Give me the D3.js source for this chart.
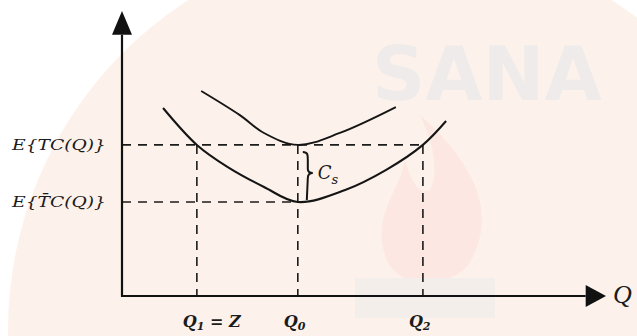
<!DOCTYPE html>
<html>
<head>
<meta charset="utf-8">
<script src="https://cdn.jsdelivr.net/npm/d3@7"></script>
<style>
  html, body { margin: 0; padding: 0; background: #ffffff; }
  svg { display: block; }
  text { font-family: "DejaVu Serif", "Liberation Serif", serif; font-style: italic; fill: #1b1b1b; }
</style>
</head>
<body>
<svg id="chart" width="637" height="336"></svg>
<script>
// Expected total cost curves against order quantity Q (data units 0..100 on both axes)
const lowerCurve = [ // E{T̄C(Q)}
  [8.5, 66.2], [15.5, 53.2], [21.9, 45.4], [29.4, 38.4], [36.4, 33.1],
  [46.2, 37.3], [54.7, 44.4], [62.3, 53.2], [67.1, 61.6]
];
const upperCurve = [ // E{TC(Q)}
  [16.4, 72.2], [24.4, 63.7], [29.4, 57.4], [36.4, 53.2], [45.1, 57.4], [56.7, 66.5]
];
const costLevels = [53.2, 33.1];            // E{TC(Q)}, E{T̄C(Q)}
const costLabels = ["TC", "T̄C"];
const quantities = [15.5, 36.4, 62.3];       // Q1 = Z, Q0, Q2
const quantityLabels = [["Q", "1", " = Z"], ["Q", "0", ""], ["Q", "2", ""]];

const svg = d3.select("#chart");
const W = 637, H = 336;

const x = d3.scaleLinear().domain([0, 100]).range([122, 605]);
const y = d3.scaleLinear().domain([0, 100]).range([296, 12]);

// background wash and faint emblem
svg.append("rect").attr("width", W).attr("height", H).attr("fill", "#ffffff");
svg.append("circle").attr("cx", 400).attr("cy", 330).attr("r", 392).attr("fill", "#fdf2eb");
const wm = svg.append("g");
wm.append("text").attr("x", 372).attr("y", 100)
  .style("font-family", "DejaVu Sans").style("font-style", "normal").style("font-weight", "bold")
  .style("font-size", "74px").style("fill", "#efebea").text("SANA");
wm.append("path")
  .attr("d", "M420,115 C470,160 500,210 470,262 C455,288 395,292 385,255 C372,215 400,190 405,160 C412,185 420,195 430,190 C440,170 432,140 420,115 Z")
  .attr("fill", "#fce7e2");
wm.append("rect").attr("x", 355).attr("y", 278).attr("width", 140).attr("height", 40).attr("fill", "#f4eeeb");

// guide lines
const dash = "9,7";
const guides = svg.append("g").attr("stroke", "#1b1b1b").attr("stroke-width", 1.6)
  .attr("stroke-dasharray", dash).attr("fill", "none");
guides.append("line").attr("x1", x(0)).attr("x2", x(quantities[2]))
  .attr("y1", y(costLevels[0])).attr("y2", y(costLevels[0]));
guides.append("line").attr("x1", x(0)).attr("x2", x(quantities[1]))
  .attr("y1", y(costLevels[1])).attr("y2", y(costLevels[1]));
quantities.forEach(q => {
  guides.append("line").attr("x1", x(q)).attr("x2", x(q))
    .attr("y1", y(costLevels[0])).attr("y2", y(0));
});

// curves
const line = d3.line().x(d => x(d[0])).y(d => y(d[1])).curve(d3.curveCatmullRom.alpha(0.5));
svg.append("path").datum(lowerCurve).attr("d", line)
  .attr("fill", "none").attr("stroke", "#151515").attr("stroke-width", 2.1);
svg.append("path").datum(upperCurve).attr("d", line)
  .attr("fill", "none").attr("stroke", "#151515").attr("stroke-width", 1.9);

// axes
const axes = svg.append("g").attr("stroke", "#111").attr("stroke-width", 2.2).attr("fill", "none");
axes.append("line").attr("x1", x(0)).attr("x2", x(0)).attr("y1", y(0) + 1).attr("y2", y(92));
axes.append("line").attr("x1", x(0) - 1).attr("x2", x(96)).attr("y1", y(0)).attr("y2", y(0));
svg.append("path")
  .attr("d", `M${x(0)},${y(100) - 1} L${x(0) - 10},${y(92)} L${x(0) + 10},${y(92)} Z`)
  .attr("fill", "#111");
svg.append("path")
  .attr("d", `M${x(100) + 1},${y(0)} L${x(96)},${y(0) - 11} L${x(96)},${y(0) + 11} Z`)
  .attr("fill", "#111");
svg.append("text").attr("x", 613).attr("y", 303)
  .style("font-family", "Liberation Serif").style("font-size", "26px").text("Q");

// brace marking the setup cost gap
const bx = x(quantities[1]) + 10;
const yt = y(costLevels[0]) + 7, yb = y(costLevels[1]) - 2, ym = (yt + yb) / 2 - 3;
svg.append("path")
  .attr("d", `M${bx - 5},${yt} C${bx},${yt} ${bx},${yt + 3} ${bx},${yt + 8} L${bx},${ym - 4} C${bx},${ym - 1} ${bx + 2},${ym} ${bx + 5},${ym} C${bx + 2},${ym} ${bx},${ym + 2} ${bx},${ym + 5} L${bx - 1},${yb}`)
  .attr("fill", "none").attr("stroke", "#151515").attr("stroke-width", 2);
const cs = svg.append("text").attr("x", bx + 10).attr("y", ym + 6).style("font-size", "18px");
cs.append("tspan").text("C");
cs.append("tspan").attr("dy", 5).style("font-size", "13px").text("s");

// cost level labels
costLabels.forEach((lab, i) => {
  const t = svg.append("text").attr("x", 12).attr("y", y(costLevels[i]) + 5)
    .style("font-size", "15px").attr("textLength", 94).attr("lengthAdjust", "spacingAndGlyphs");
  t.append("tspan").text("E{" + lab + "(Q)}");
});

// quantity labels
quantityLabels.forEach((lab, i) => {
  const t = svg.append("text").attr("x", x(quantities[i]) - 14).attr("y", 327)
    .style("font-size", "16px").style("font-weight", "bold");
  t.append("tspan").text(lab[0]);
  t.append("tspan").attr("dy", 3).style("font-size", "11px").text(lab[1]);
  if (lab[2]) t.append("tspan").attr("dy", -3).text(lab[2]);
});
</script>
</body>
</html>
